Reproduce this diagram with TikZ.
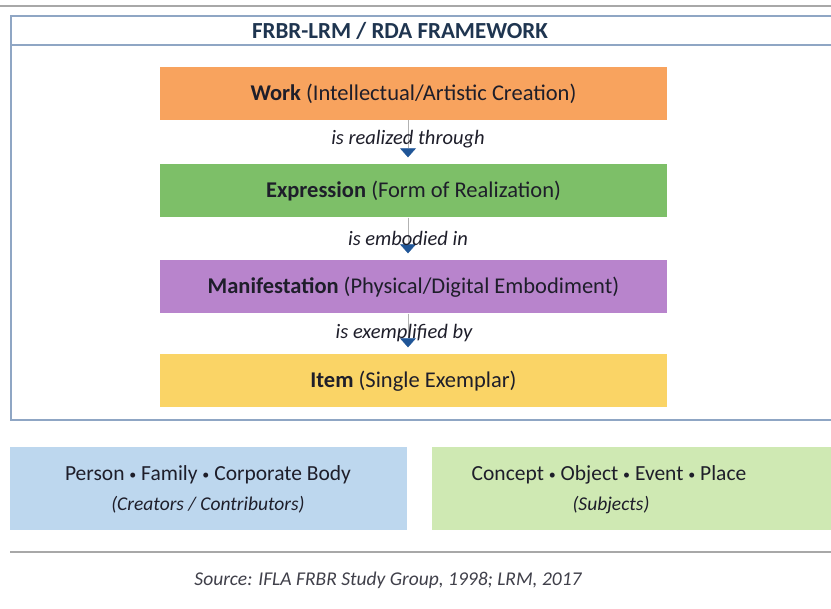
\documentclass[tikz,border=0pt]{standalone}
\usepackage{fontspec}
\setmainfont{Carlito}
\usetikzlibrary{arrows.meta}
\definecolor{frameblue}{HTML}{8FA6C4}
\definecolor{titlenavy}{HTML}{1F3550}
\definecolor{workorange}{HTML}{F8A35E}
\definecolor{exprgreen}{HTML}{7DBF68}
\definecolor{manipurple}{HTML}{B884CC}
\definecolor{itemyellow}{HTML}{FAD466}
\definecolor{agentblue}{HTML}{BDD7EE}
\definecolor{subjgreen}{HTML}{CFE9B3}
\definecolor{tipblue}{HTML}{1F5597}
\definecolor{textdark}{HTML}{1E1E2A}
\definecolor{rulegray}{HTML}{A8A8A8}
\newcommand{\smalldot}{\raisebox{1.5pt}{\fontsize{14}{14}\selectfont•}}
\tikzset{
  entity/.style={minimum width=507pt, minimum height=53pt, inner sep=0pt, text=textdark, font=\fontsize{22.5}{24}\selectfont},
  rel/.style={font=\fontsize{20.5}{22}\selectfont\itshape, text=textdark},
  conn/.style={draw=gray!60, line width=0.6pt, shorten >=7pt, -{Triangle[width=16pt,length=9pt,color=tipblue]}},
  group/.style={inner sep=0pt, align=center, text=textdark},
}
\begin{document}
\begin{tikzpicture}[x=1pt,y=-1pt]
\useasboundingbox[fill=white] (0,0) rectangle (831,609);
% top rule
\draw[rulegray, line width=2.5pt] (0,6) -- (831,6);
% frame
\draw[frameblue, line width=1.6pt] (11,16) rectangle (845,420);
\draw[frameblue, line width=1.2pt] (11,45) -- (845,45);
\node[font=\fontsize{23}{25}\selectfont\bfseries, text=titlenavy] (title) at (400,31) {FRBR-LRM / RDA FRAMEWORK};
% entities
\node[entity, fill=workorange] (work) at (413.5,93.5) {\textbf{Work} (Intellectual/Artistic Creation)};
\node[entity, fill=exprgreen] (expr) at (413.5,191) {\textbf{Expression} (Form of Realization)};
\node[entity, fill=manipurple] (mani) at (413.5,287) {\textbf{Manifestation} (Physical/Digital Embodiment)};
\node[entity, fill=itemyellow] (item) at (413.5,381) {\textbf{Item} (Single Exemplar)};
% connectors
\draw[conn] (work.south -| 408,0) -- (expr.north -| 408,0);
\draw[conn] (expr.south -| 408,0) -- (mani.north -| 408,0);
\draw[conn] (mani.south -| 408,0) -- (item.north -| 408,0);
\node[rel] (r1) at (408,139) {is realized through};
\node[rel] (r2) at (408,238) {is embodied in};
\node[rel] (r3) at (404,333) {is exemplified by};
% groups
\fill[agentblue] (10,447) rectangle (407,530);
\fill[subjgreen] (432,447) rectangle (845,530);
\node[group, font=\fontsize{21.5}{23}\selectfont] (agents) at (208,475) {Person \smalldot{} Family \smalldot{} Corporate Body};
\node[group, font=\fontsize{19.5}{21}\selectfont\itshape] (agentsub) at (208,505) {(Creators / Contributors)};
\node[group, font=\fontsize{21.5}{23}\selectfont] (subjects) at (609,475) {Concept \smalldot{} Object \smalldot{} Event \smalldot{} Place};
\node[group, font=\fontsize{19.5}{21}\selectfont\itshape] (subjsub) at (611,505) {(Subjects)};
% bottom rule
\draw[rulegray, line width=1.6pt] (10,552) -- (831,552);
\node[font=\fontsize{19.5}{21}\selectfont\itshape, text=textdark!85] (source) at (388,580) {Source: IFLA FRBR Study Group, 1998; LRM, 2017};
\end{tikzpicture}
\end{document}
